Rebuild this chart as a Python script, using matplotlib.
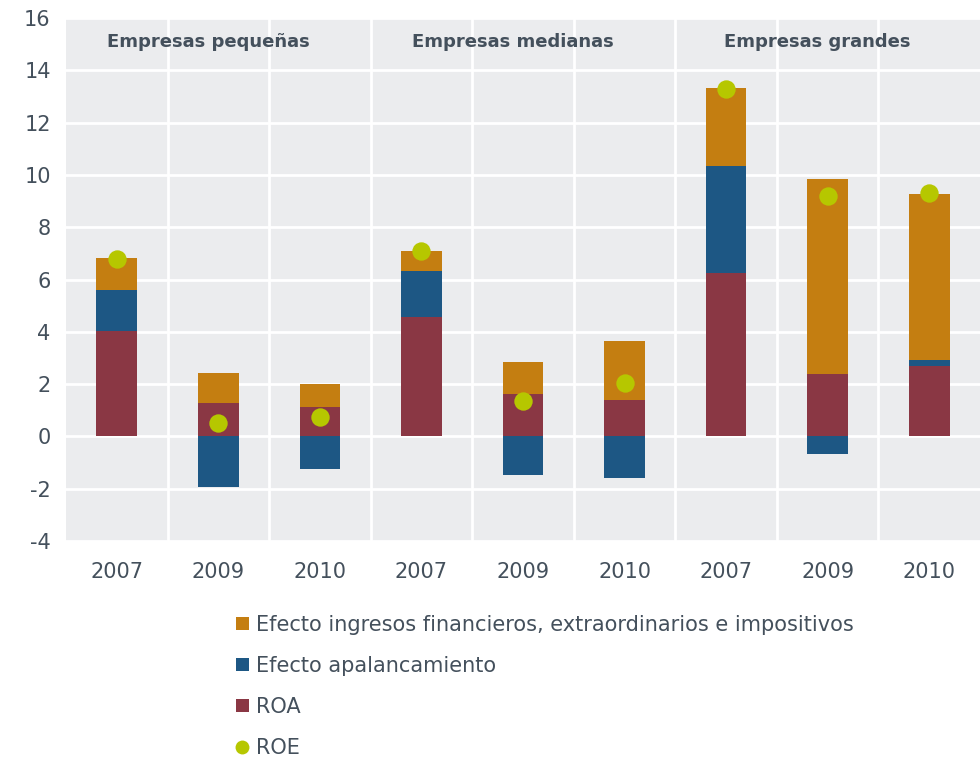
import matplotlib
matplotlib.use("Agg")
import matplotlib.pyplot as plt
from matplotlib.lines import Line2D
from matplotlib.patches import Patch
import numpy as np

years = ["2007", "2009", "2010", "2007", "2009", "2010", "2007", "2009", "2010"]
groups = ["Empresas pequeñas", "Empresas medianas", "Empresas grandes"]
roa = [4.03, 1.27, 1.12, 4.56, 1.63, 1.39, 6.26, 2.38, 2.70]
apalancamiento = [1.58, -1.92, -1.25, 1.75, -1.48, -1.60, 4.08, -0.67, 0.21]
efecto_ingresos = [1.21, 1.17, 0.90, 0.79, 1.20, 2.24, 2.98, 7.47, 6.37]
roe = [6.80, 0.50, 0.76, 7.10, 1.35, 2.03, 13.30, 9.18, 9.30]
yticks = [-4, -2, 0, 2, 4, 6, 8, 10, 12, 14, 16]

C_EF = "#C47E11"
C_AP = "#1D5784"
C_ROA = "#8A3744"
C_ROE = "#B6C700"
TXT = "#44505C"
BG = "#EBECEE"

plt.rcParams['font.family'] = ['DejaVu Sans']

fig = plt.figure(figsize=(9.8, 7.59), dpi=100)
ax = fig.add_axes([66/980, 1 - 541/759, (980-66)/980, (541-18)/759])
ax.set_facecolor(BG)

x = np.arange(len(years))
roa_a = np.array(roa)
ap_a = np.array(apalancamiento)
ef_a = np.array(efecto_ingresos)
w = 0.4
ap_bottom = np.where(ap_a >= 0, roa_a, 0)
ef_bottom = roa_a + np.clip(ap_a, 0, None)

ax.bar(x, roa_a, w, color=C_ROA, zorder=3)
ax.bar(x, ap_a, w, bottom=ap_bottom, color=C_AP, zorder=3)
ax.bar(x, ef_a, w, bottom=ef_bottom, color=C_EF, zorder=3)
ax.scatter(x, roe, s=175, color=C_ROE, zorder=4, linewidths=0)

ax.set_xlim(-0.5, len(years) - 0.5)
ax.set_ylim(-4, 16)
ax.set_yticks(yticks)
ax.set_yticklabels([str(v) for v in yticks])
ax.set_xticks(x)
ax.set_xticklabels(years)
ax.set_xticks(np.arange(0.5, len(years) - 0.5, 1), minor=True)
ax.tick_params(axis='both', which='both', length=0, labelsize=15, colors=TXT)
ax.tick_params(axis='x', pad=15)
ax.tick_params(axis='y', pad=11)
ax.grid(True, axis='y', which='major', color='white', linewidth=2, zorder=1)
ax.grid(True, axis='x', which='minor', color='white', linewidth=2, zorder=1)
ax.grid(False, axis='x', which='major')
for s in ax.spines.values():
    s.set_visible(False)
ax.set_axisbelow(True)

for i, g in enumerate(groups):
    ax.text(3 * i + 1 - 0.1, 15.1, g, ha='center', va='center', fontsize=13,
            fontweight='bold', color=TXT)

handles = [
    Patch(facecolor=C_EF, label="Efecto ingresos financieros, extraordinarios e impositivos"),
    Patch(facecolor=C_AP, label="Efecto apalancamiento"),
    Patch(facecolor=C_ROA, label="ROA"),
    Line2D([], [], marker='o', linestyle='none', markersize=10, markerfacecolor=C_ROE,
           markeredgewidth=0, label="ROE"),
]
leg = fig.legend(handles=handles, loc='upper left', bbox_to_anchor=(236/980, 1 - 615/759),
                 frameon=False, fontsize=15, handlelength=0.6, handleheight=0.6,
                 handletextpad=0.35, labelspacing=1.0, borderaxespad=0, borderpad=0)
for t in leg.get_texts():
    t.set_color(TXT)

fig.savefig("out.png", dpi=100)
